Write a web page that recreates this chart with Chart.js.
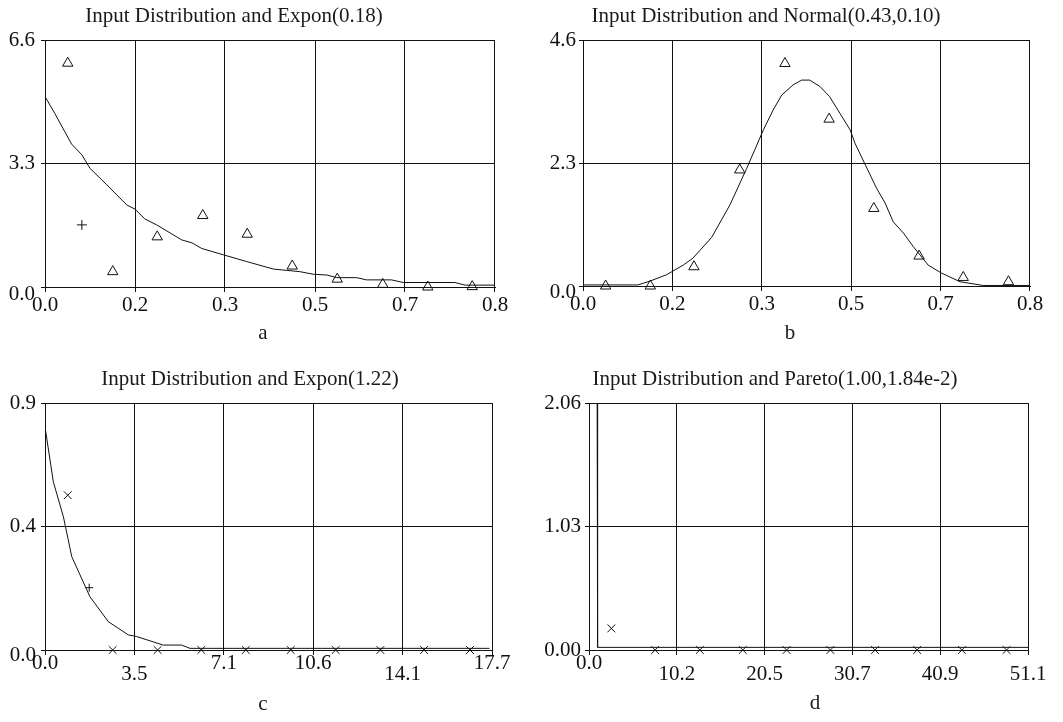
<!DOCTYPE html>
<html>
<head>
<meta charset="utf-8">
<script src="https://cdn.jsdelivr.net/npm/chart.js@4.4.0/dist/chart.umd.min.js"></script>
<style>
  body { margin: 0; background: #fff; }
  #wrap { position: relative; width: 1063px; height: 722px; font-family: "Liberation Serif", "Times New Roman", serif; color: #1a1a1a; }
  canvas { position: absolute; }
  .lbl { position: absolute; font-size: 21px; line-height: 24px; white-space: nowrap; transform: translateX(-50%); }
</style>
</head>
<body>
<div id="wrap">
  <canvas id="chartA" width="530" height="345" style="left:0;top:0"></canvas>
  <canvas id="chartB" width="533" height="345" style="left:530px;top:0"></canvas>
  <canvas id="chartC" width="530" height="362" style="left:0;top:360px"></canvas>
  <canvas id="chartD" width="533" height="362" style="left:530px;top:360px"></canvas>

  <div class="lbl" style="left:234px;top:3px">Input Distribution and Expon(0.18)</div>
  <div class="lbl" style="left:766px;top:3px">Input Distribution and Normal(0.43,0.10)</div>
  <div class="lbl" style="left:250px;top:366px">Input Distribution and Expon(1.22)</div>
  <div class="lbl" style="left:775px;top:366px">Input Distribution and Pareto(1.00,1.84e-2)</div>

  <div class="lbl" style="left:263px;top:320px">a</div>
  <div class="lbl" style="left:790px;top:320px">b</div>
  <div class="lbl" style="left:263px;top:691px">c</div>
  <div class="lbl" style="left:815px;top:690px">d</div>
</div>

<script>
const FONT = '"Liberation Serif", "Times New Roman", serif';
const INK = '#111';

// panel a: Expon(0.18)
const aXLabels = ['0.0', '0.2', '0.3', '0.5', '0.7', '0.8'];
const aYLabels = ['0.0', '3.3', '6.6'];
const aXMax = 0.83;
const aYMax = 6.6;
const aBinX = [0.042, 0.125, 0.207, 0.291, 0.373, 0.456, 0.539, 0.623, 0.706, 0.788];
const aHist = [5.98, 0.41, 1.34, 1.91, 1.41, 0.56, 0.21, 0.07, 0.0, 0.01];
const aFitX = [0, 0.018, 0.049, 0.068, 0.083, 0.114, 0.151, 0.166, 0.184, 0.206, 0.252, 0.271, 0.289, 0.329, 0.372, 0.421, 0.470, 0.495, 0.520, 0.538, 0.575, 0.593, 0.639, 0.661, 0.756, 0.775, 0.83];
const aFitY = [5.09, 4.64, 3.82, 3.53, 3.17, 2.73, 2.19, 2.08, 1.82, 1.66, 1.26, 1.18, 1.03, 0.86, 0.68, 0.48, 0.41, 0.34, 0.32, 0.25, 0.25, 0.19, 0.19, 0.12, 0.12, 0.05, 0.05];
const aPlusX = [0.068];
const aPlusY = [1.66];

// panel b: Normal(0.43,0.10)
const bXLabels = ['0.0', '0.2', '0.3', '0.5', '0.7', '0.8'];
const bYLabels = ['0.0', '2.3', '4.6'];
const bXMax = 0.83;
const bYMax = 4.6;
const bBinX = [0.042, 0.125, 0.206, 0.291, 0.375, 0.457, 0.540, 0.624, 0.706, 0.790];
const bHist = [0.0, 0.0, 0.36, 2.17, 4.16, 3.12, 1.45, 0.56, 0.16, 0.08];
const bFitX = [0, 0.102, 0.124, 0.155, 0.186, 0.204, 0.239, 0.273, 0.304, 0.335, 0.353, 0.369, 0.390, 0.406, 0.421, 0.440, 0.458, 0.477, 0.496, 0.505, 0.523, 0.545, 0.561, 0.576, 0.595, 0.613, 0.641, 0.666, 0.700, 0.743, 0.83];
const bFitY = [0.02, 0.02, 0.09, 0.21, 0.39, 0.52, 0.91, 1.52, 2.20, 2.92, 3.29, 3.57, 3.76, 3.85, 3.85, 3.73, 3.54, 3.23, 2.92, 2.67, 2.29, 1.83, 1.55, 1.20, 0.99, 0.74, 0.39, 0.24, 0.08, 0.01, 0.01];

// panel c: Expon(1.22)
const cXLabels = ['0.0', '3.5', '7.1', '10.6', '14.1', '17.7'];
const cYLabels = ['0.0', '0.4', '0.9'];
const cXMax = 17.7;
const cYMax = 0.9;
const cBinX = [0.90, 2.68, 4.46, 6.19, 7.95, 9.73, 11.51, 13.28, 15.01, 16.83];
const cHist = [0.564, 0.0, 0.0, 0.0, 0.0, 0.0, 0.0, 0.0, 0.0, 0.0];
const cFitX = [0, 0.33, 0.73, 1.06, 1.78, 2.51, 3.30, 3.63, 4.68, 5.41, 5.74, 17.6];
const cFitY = [0.813, 0.613, 0.485, 0.34, 0.194, 0.103, 0.055, 0.049, 0.018, 0.018, 0.006, 0.006];
const cPlusX = [1.75];
const cPlusY = [0.227];

// panel d: Pareto(1.00,1.84e-2)
const dXLabels = ['0.0', '10.2', '20.5', '30.7', '40.9', '51.1'];
const dYLabels = ['0.00', '1.03', '2.06'];
const dXMax = 51.1;
const dYMax = 2.06;
const dBinX = [2.6, 7.7, 12.9, 17.9, 23.0, 28.1, 33.3, 38.2, 43.4, 48.6];
const dHist = [0.18, 0.0, 0.0, 0.0, 0.0, 0.0, 0.0, 0.0, 0.0, 0.0];
const dFitX = [0.95, 1.0, 51.1];
const dFitY = [2.06, 0.022, 0.022];

function pts(xs, ys) {
  return xs.map((x, i) => ({ x: x, y: ys[i] }));
}

function evenTicks(max, labels) {
  return labels.map((_, i) => ({ value: max * i / (labels.length - 1) }));
}

function makePanel(id, p) {
  const datasets = [
    { data: pts(p.fitX, p.fitY), showLine: true, borderColor: INK, borderWidth: 1,
      pointRadius: 0, tension: 0 },
    { data: pts(p.binX, p.hist), pointStyle: p.marker, pointRadius: p.markerSize,
      pointBorderColor: INK, pointBackgroundColor: 'rgba(0,0,0,0)', pointBorderWidth: 1, clip: false }
  ];
  if (p.plusX) {
    datasets.push({ data: pts(p.plusX, p.plusY), pointStyle: 'cross', pointRadius: p.plusSize,
      pointBorderColor: INK, pointBorderWidth: 1, clip: false });
  }

  new Chart(document.getElementById(id), {
    type: 'scatter',
    data: { datasets: datasets },
    options: {
      responsive: false,
      animation: false,
      events: [],
      layout: { padding: p.pad },
      plugins: { legend: { display: false }, tooltip: { enabled: false } },
      scales: {
        x: {
          type: 'linear', min: 0, max: p.xMax,
          afterBuildTicks: s => { s.ticks = evenTicks(p.xMax, p.xLabels); },
          afterFit: s => { s.height = 40; },
          grid: { color: INK, lineWidth: 1, tickLength: 5, tickColor: INK },
          border: { color: INK, width: 1 },
          ticks: {
            autoSkip: false, maxRotation: 0, minRotation: 0, padding: p.xPad, color: INK,
            font: { family: FONT, size: 21, lineHeight: p.xLine },
            callback: (v, i) => (p.xLow && p.xLow[i]) ? ['', p.xLabels[i]] : p.xLabels[i]
          }
        },
        y: {
          type: 'linear', min: 0, max: p.yMax,
          afterBuildTicks: s => { s.ticks = evenTicks(p.yMax, p.yLabels); },
          afterFit: s => { s.width = p.yWidth; },
          grid: { color: INK, lineWidth: 1, tickLength: 4, tickColor: INK },
          border: { color: INK, width: 1 },
          ticks: {
            autoSkip: false, padding: p.yPad, color: INK,
            font: { family: FONT, size: 21, lineHeight: p.yLine },
            callback: (v, i) => (i === 0 && p.yShift) ? ['', p.yLabels[i]] : p.yLabels[i]
          }
        }
      }
    }
  });
}

makePanel('chartA', {
  xLabels: aXLabels, yLabels: aYLabels, xMax: aXMax, yMax: aYMax,
  binX: aBinX, hist: aHist, fitX: aFitX, fitY: aFitY, plusX: aPlusX, plusY: aPlusY,
  marker: 'triangle', markerSize: 6, plusSize: 5,
  pad: { left: 0, right: 35, top: 40, bottom: 18 }, yWidth: 45,
  xPad: 3, xLine: '20px', yPad: 6, yShift: true, yLine: '14px'
});

makePanel('chartB', {
  xLabels: bXLabels, yLabels: bYLabels, xMax: bXMax, yMax: bYMax,
  binX: bBinX, hist: bHist, fitX: bFitX, fitY: bFitY,
  marker: 'triangle', markerSize: 6,
  pad: { left: 0, right: 33, top: 40, bottom: 19 }, yWidth: 53,
  xPad: 3, xLine: '20px', yPad: 3, yShift: true, yLine: '13px'
});

makePanel('chartC', {
  xLabels: cXLabels, yLabels: cYLabels, xMax: cXMax, yMax: cYMax,
  binX: cBinX, hist: cHist, fitX: cFitX, fitY: cFitY, plusX: cPlusX, plusY: cPlusY,
  marker: 'crossRot', markerSize: 5.5, plusSize: 4,
  xLow: [false, true, false, false, true, false],
  pad: { left: 0, right: 38, top: 43, bottom: 32 }, yWidth: 45,
  xPad: 3, xLine: '11px', yPad: 5, yShift: true, yLine: '10px'
});

makePanel('chartD', {
  xLabels: dXLabels, yLabels: dYLabels, xMax: dXMax, yMax: dYMax,
  binX: dBinX, hist: dHist, fitX: dFitX, fitY: dFitY,
  marker: 'crossRot', markerSize: 5.5,
  xLow: [false, true, true, true, true, true],
  pad: { left: 0, right: 35, top: 43, bottom: 32 }, yWidth: 59,
  xPad: 3, xLine: '11px', yPad: 4, yShift: false, yLine: '21px'
});
</script>
</body>
</html>
